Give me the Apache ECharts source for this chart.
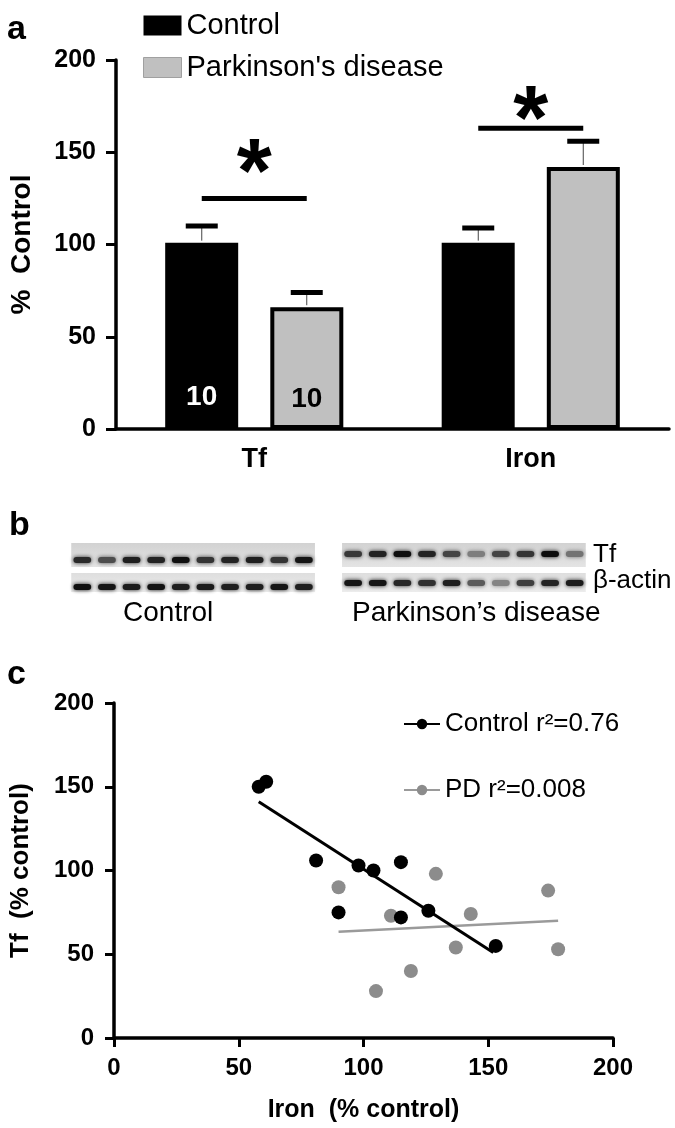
<!DOCTYPE html>
<html><head><meta charset="utf-8">
<script src="https://cdn.jsdelivr.net/npm/echarts@6/dist/echarts.min.js"></script>
<style>html,body{margin:0;padding:0;background:#fff}#c{width:675px;height:1128px}</style>
</head><body><div id="c"></div>
<script>
// ---------- Panel a: bar chart ----------
const barCategories = ['Tf', 'Iron'];
const controlMeans = [101, 101];
const pdMeans = [66, 142];
const controlUpper = [110, 109];
const pdUpper = [74, 156];
const controlN = ['10', ''];
const pdN = ['10', ''];
const sigLineY = [125, 163];
const sigStarY = [146, 175];

// ---------- Panel b: western blot (band darkness 0..1) ----------
const blotLaneLabels = ['', '', '', 'Control', '', '', '', '', '', '', '', '', '', '', '', '', "Parkinson\u2019s disease", '', '', '', ''];
const blotRows = ['\u03b2-actin', 'Tf'];
const blotControlTf = [0.85, 0.68, 0.9, 0.88, 0.97, 0.8, 0.88, 0.9, 0.8, 0.95];
const blotPdTf = [0.78, 0.88, 0.98, 0.88, 0.72, 0.45, 0.72, 0.8, 0.99, 0.5];
const blotControlActin = [0.97, 0.95, 0.92, 0.96, 0.9, 0.92, 0.9, 0.9, 0.95, 0.9];
const blotPdActin = [0.95, 0.95, 0.86, 0.82, 0.9, 0.62, 0.42, 0.75, 0.88, 0.92];

// ---------- Panel c: scatter ----------
const controlPts = [[58, 150], [61, 153], [81, 106], [98, 103], [104, 100], [115, 105], [90, 75], [115, 72], [126, 76], [153, 55]];
const pdPts = [[90, 90], [129, 98], [174, 88], [111, 73], [143, 74], [137, 54], [178, 53], [119, 40], [105, 28]];
const controlFit = [[58, 141], [152, 51]];
const pdFit = [[90, 63.5], [178, 70]];
const controlName = 'Control r\u00b2=0.76';
const pdName = 'PD r\u00b2=0.008';

const FONT = 'Liberation Sans, Arial, sans-serif';

const blotBands = [];
blotControlTf.forEach((d, i) => blotBands.push([i, 1, d, 0]));
blotPdTf.forEach((d, i) => blotBands.push([11 + i, 1, d, 1]));
blotControlActin.forEach((d, i) => blotBands.push([i, 0, d, 0]));
blotPdActin.forEach((d, i) => blotBands.push([11 + i, 0, d, 1]));
const blotStrips = [[0, 9, 1], [11, 20, 1], [0, 9, 0], [11, 20, 0]];

const errData = [];
barCategories.forEach((c, i) => {
  errData.push([i, controlMeans[i], controlUpper[i], -1]);
  errData.push([i, pdMeans[i], pdUpper[i], 1]);
});
const sigData = barCategories.map((c, i) => [i, sigLineY[i], sigStarY[i]]);

const BAR_OFF = 52.5;

const chart = echarts.init(document.getElementById('c'), null, {renderer: 'canvas'});
chart.setOption({
  animation: false,
  textStyle: {fontFamily: FONT},
  title: [
    {text: 'a', left: 2, top: 8, textStyle: {fontSize: 34, fontWeight: 'bold', color: '#000', fontFamily: FONT}},
    {text: 'b', left: 4, top: 504, textStyle: {fontSize: 34, fontWeight: 'bold', color: '#000', fontFamily: FONT}},
    {text: 'c', left: 2, top: 653, textStyle: {fontSize: 34, fontWeight: 'bold', color: '#000', fontFamily: FONT}}
  ],
  legend: [
    {
      orient: 'vertical', left: 138, top: 6, itemWidth: 38, itemHeight: 20, itemGap: 13,
      icon: 'rect', selectedMode: false,
      textStyle: {fontSize: 29, color: '#000', fontFamily: FONT, lineHeight: 29},
      data: [
        {name: 'Control'},
        {name: "Parkinson's disease", itemStyle: {borderColor: '#a0a0a0', borderWidth: 1}}
      ]
    },
    {
      orient: 'vertical', left: 398, top: 706, itemWidth: 36, itemHeight: 13, itemGap: 40,
      selectedMode: false,
      textStyle: {fontSize: 26, color: '#000', fontFamily: FONT},
      data: [controlName, pdName]
    }
  ],
  grid: [
    {left: 114, right: 6, top: 60, height: 369},
    {left: 70, right: 88, top: 542, height: 52},
    {left: 113, right: 62, top: 703, height: 335}
  ],
  xAxis: [
    {
      gridIndex: 0, type: 'category', data: barCategories,
      axisLine: {lineStyle: {color: '#000', width: 3.5}},
      axisTick: {show: false},
      axisLabel: {fontSize: 27, fontWeight: 'bold', color: '#000', margin: 17, fontFamily: FONT}
    },
    {
      gridIndex: 1, type: 'category', data: blotLaneLabels, boundaryGap: true,
      axisLine: {show: false}, axisTick: {show: false}, splitLine: {show: false},
      axisLabel: {
        interval: 0, color: '#000', margin: 5, fontFamily: FONT,
        formatter: function (v) {
          if (v === 'Control') return '{c|' + v + '}';
          if (v) return '{p|' + v + '}';
          return '';
        },
        rich: {
          c: {fontSize: 28, fontFamily: FONT, color: '#000', padding: [0, 0, 0, 24]},
          p: {fontSize: 28, fontFamily: FONT, color: '#000', padding: [0, 0, 0, 0]}
        }
      }
    },
    {
      gridIndex: 2, type: 'value', min: 0, max: 200, interval: 50,
      axisLine: {show: true, lineStyle: {color: '#000', width: 3.5}},
      axisTick: {show: true, length: 9, lineStyle: {width: 3, color: '#000'}},
      splitLine: {show: false},
      axisLabel: {fontSize: 24, fontWeight: 'bold', color: '#000', margin: 18, fontFamily: FONT},
      name: 'Iron  (% control)', nameLocation: 'middle', nameGap: 60,
      nameTextStyle: {fontSize: 25, fontWeight: 'bold', color: '#000', fontFamily: FONT}
    }
  ],
  yAxis: [
    {
      gridIndex: 0, type: 'value', min: 0, max: 200, interval: 50,
      axisLine: {show: true, lineStyle: {color: '#000', width: 3.5}},
      axisTick: {show: true, length: 10, lineStyle: {width: 3, color: '#000'}},
      splitLine: {show: false},
      axisLabel: {fontSize: 25, fontWeight: 'bold', color: '#000', margin: 20, fontFamily: FONT},
      name: '%  Control', nameLocation: 'middle', nameGap: 80,
      nameTextStyle: {fontSize: 28, fontWeight: 'bold', color: '#000', fontFamily: FONT}
    },
    {
      gridIndex: 1, type: 'category', data: blotRows, position: 'right',
      axisLine: {show: false}, axisTick: {show: false}, splitLine: {show: false},
      axisLabel: {interval: 0, fontSize: 26, color: '#000', margin: 6, fontFamily: FONT}
    },
    {
      gridIndex: 2, type: 'value', min: 0, max: 200, interval: 50,
      axisLine: {show: true, lineStyle: {color: '#000', width: 3.5}},
      axisTick: {show: true, length: 9, lineStyle: {width: 3, color: '#000'}},
      splitLine: {show: false},
      axisLabel: {fontSize: 24, fontWeight: 'bold', color: '#000', margin: 20, fontFamily: FONT},
      name: 'Tf  (% control)', nameLocation: 'middle', nameGap: 80,
      nameTextStyle: {fontSize: 26, fontWeight: 'bold', color: '#000', fontFamily: FONT}
    }
  ],
  series: [
    {
      name: 'Control', type: 'bar', xAxisIndex: 0, yAxisIndex: 0,
      barWidth: 73, barGap: '44%',
      itemStyle: {color: '#000'},
      data: controlMeans.map((v, i) => ({value: v, label: {show: controlN[i] !== '', formatter: controlN[i]}})),
      label: {position: 'insideBottom', distance: 18, fontSize: 28, fontWeight: 'bold', color: '#fff', fontFamily: FONT}
    },
    {
      name: "Parkinson's disease", type: 'bar', xAxisIndex: 0, yAxisIndex: 0,
      barWidth: 73,
      itemStyle: {color: '#c0c0c0', borderColor: '#000', borderWidth: 4},
      data: pdMeans.map((v, i) => ({value: v, label: {show: pdN[i] !== '', formatter: pdN[i]}})),
      label: {position: 'insideBottom', distance: 16, fontSize: 28, fontWeight: 'bold', color: '#000', fontFamily: FONT}
    },
    {
      type: 'custom', xAxisIndex: 0, yAxisIndex: 0, z: 5, silent: true,
      data: errData,
      renderItem: function (params, api) {
        const base = api.coord([api.value(0), api.value(1)]);
        const top = api.coord([api.value(0), api.value(2)]);
        const x = base[0] + api.value(3) * BAR_OFF;
        return {type: 'group', children: [
          {type: 'line', shape: {x1: x, y1: base[1] - 2, x2: x, y2: top[1]}, style: {stroke: '#444', lineWidth: 1}},
          {type: 'line', shape: {x1: x - 16, y1: top[1], x2: x + 16, y2: top[1]}, style: {stroke: '#000', lineWidth: 5}}
        ]};
      }
    },
    {
      type: 'custom', xAxisIndex: 0, yAxisIndex: 0, z: 5, silent: true,
      data: sigData,
      renderItem: function (params, api) {
        const p = api.coord([api.value(0), api.value(1)]);
        const s = api.coord([api.value(0), api.value(2)]);
        return {type: 'group', children: [
          {type: 'line', shape: {x1: p[0] - BAR_OFF, y1: p[1], x2: p[0] + BAR_OFF, y2: p[1]}, style: {stroke: '#000', lineWidth: 5}},
          {type: 'text', x: s[0], y: s[1] + 18, style: {text: '*', fontSize: 90, fontWeight: 'bold', fontFamily: FONT, fill: '#000', textAlign: 'center', textVerticalAlign: 'middle'}}
        ]};
      }
    },
    // blot strips
    {
      type: 'custom', xAxisIndex: 1, yAxisIndex: 1, silent: true, z: 1,
      data: blotStrips,
      renderItem: function (params, api) {
        const a = api.coord([api.value(0), api.value(2)]);
        const b = api.coord([api.value(1), api.value(2)]);
        const w = api.size([1, 1]);
        const row = api.value(2);
        const x0 = a[0] - w[0] * 0.45, x1 = b[0] + w[0] * 0.45;
        const top = row === 1 ? 1 : 5, bot = row === 1 ? 1 : 2;
        const y0 = a[1] - w[1] / 2 + top, h = w[1] - top - bot;
        const c0 = row === 1 ? '#d2d2d2' : '#dedede', c1 = row === 1 ? '#e4e4e4' : '#ececec';
        return {type: 'rect', shape: {x: x0, y: y0, width: x1 - x0, height: h},
          style: {fill: new echarts.graphic.LinearGradient(0, 0, 0, 1, [{offset: 0, color: c0}, {offset: 1, color: c1}])}};
      }
    },
    // blot bands
    {
      type: 'custom', xAxisIndex: 1, yAxisIndex: 1, silent: true, z: 2,
      data: blotBands,
      renderItem: function (params, api) {
        const c = api.coord([api.value(0), api.value(1)]);
        const sz = api.size([1, 1]);
        const row = api.value(1), grp = api.value(3), d = api.value(2);
        let frac;
        if (row === 1) frac = grp === 0 ? 0.69 : 0.46; else frac = grp === 0 ? 0.73 : 0.58;
        const cy = c[1] - sz[1] / 2 + frac * sz[1];
        const g = Math.round(220 - d * 210);
        const col = 'rgb(' + g + ',' + g + ',' + g + ')';
        const bw = sz[0] * 0.72, bh = 6;
        return {type: 'rect', shape: {x: c[0] - bw / 2, y: cy - bh / 2, width: bw, height: bh, r: 3},
          style: {fill: col, shadowBlur: 4, shadowColor: col}};
      }
    },
    // panel c
    {
      name: controlName, type: 'line', xAxisIndex: 2, yAxisIndex: 2, data: controlFit,
      symbol: 'circle', symbolSize: 13, showSymbol: false,
      lineStyle: {color: '#000', width: 3}, itemStyle: {color: '#000'}, z: 3
    },
    {
      name: pdName, type: 'line', xAxisIndex: 2, yAxisIndex: 2, data: pdFit,
      symbol: 'circle', symbolSize: 13, showSymbol: false,
      lineStyle: {color: '#9a9a9a', width: 2.5}, itemStyle: {color: '#8c8c8c'}, z: 2
    },
    {
      name: controlName, type: 'scatter', xAxisIndex: 2, yAxisIndex: 2, data: controlPts,
      symbolSize: 14, itemStyle: {color: '#000', opacity: 1}, z: 4
    },
    {
      name: pdName, type: 'scatter', xAxisIndex: 2, yAxisIndex: 2, data: pdPts,
      symbolSize: 14, itemStyle: {color: '#8c8c8c', opacity: 1}, z: 3
    }
  ]
});
</script>
</body></html>
